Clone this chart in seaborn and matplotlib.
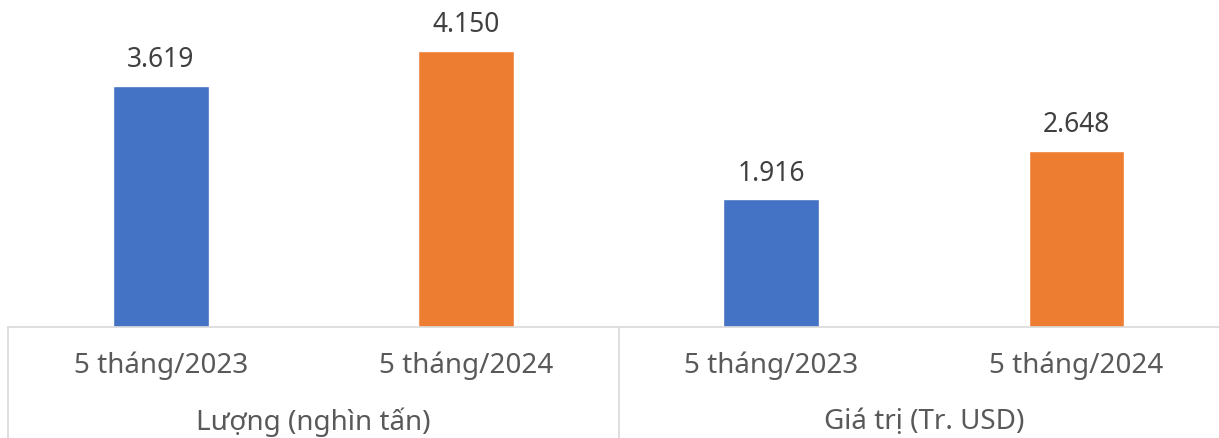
import matplotlib
matplotlib.use("Agg")
import matplotlib.pyplot as plt
import seaborn as sns
import pandas as pd

# data
groups = ["Lượng (nghìn tấn)", "Giá trị (Tr. USD)"]
periods = ["5 tháng/2023", "5 tháng/2024"]
values = [3619, 4150, 1916, 2648]
palette = {"5 tháng/2023": "#4472C4", "5 tháng/2024": "#ED7D31"}

rows = []
i = 0
for g in groups:
    for p in periods:
        rows.append({"slot": f"{g}|{p}", "group": g, "period": p, "value": values[i]})
        i += 1
df = pd.DataFrame(rows)

sns.set_theme(style="white")
plt.rcParams["font.family"] = ["Noto Sans", "DejaVu Sans"]

fig = plt.figure(figsize=(12.19, 4.39), dpi=100)
W, H = 1219, 439
slot_px = 305.3
ax = fig.add_axes([8 / W, 111 / H, 4 * slot_px / W, 328 / H])

sns.barplot(data=df, x="slot", y="value", hue="period", palette=palette,
            dodge=False, width=0.314, legend=False, ax=ax, saturation=1)

ax.set_xlim(-0.5, 3.5)
ax.set_ylim(0, 328 / 0.0666)
ax.set_xlabel("")
ax.set_ylabel("")
ax.set_yticks([])
ax.set_xticks(range(4))
ax.set_xticklabels(periods * 2, fontsize=20, color="#595959")
ax.tick_params(axis="x", length=0, pad=17)

for s in ["top", "left", "right"]:
    ax.spines[s].set_visible(False)
ax.spines["bottom"].set_color("#D9D9D9")
ax.spines["bottom"].set_linewidth(1.2)

# value labels with Vietnamese thousand separator
for cont in ax.containers:
    labs = [f"{int(b.get_height()):,}".replace(",", ".") for b in cont]
    ax.bar_label(cont, labels=labs, padding=9, fontsize=19, color="#404040")

# group separators and group labels
trans = ax.get_xaxis_transform()
for x in [-0.5, 1.5]:
    ax.plot([x, x], [0, -0.4], transform=trans, clip_on=False,
            color="#D9D9D9", lw=1.2)
for k, g in enumerate(groups):
    ax.annotate(g, xy=(2 * k + 0.5, 0), xycoords=trans,
                xytext=(0, -94 * 0.72), textcoords="offset points",
                ha="center", va="center", fontsize=20, color="#595959",
                annotation_clip=False)

fig.savefig("out.png", dpi=100)
